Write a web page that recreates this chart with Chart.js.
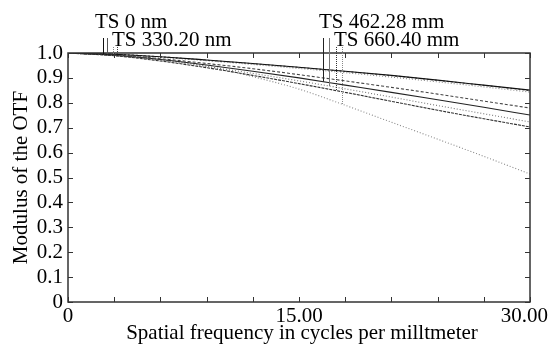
<!DOCTYPE html>
<html>
<head>
<meta charset="utf-8">
<script src="https://cdn.jsdelivr.net/npm/chart.js@4.4.1/dist/chart.umd.min.js"></script>
<style>
  html, body { margin: 0; padding: 0; background: #fff; }
  #wrap { width: 550px; height: 347px; }
</style>
</head>
<body>
<div id="wrap"><canvas id="mtf" width="550" height="347"></canvas></div>
<script>
// spatial frequency samples (cycles/mm)
const freqs = [0, 3, 6, 9, 12, 15, 18, 21, 24, 27, 30];

// MTF curves, tangential / sagittal for each field
const fld0T   = [1.0, 0.995, 0.985, 0.972, 0.958, 0.943, 0.927, 0.910, 0.891, 0.871, 0.851];
const fld0S   = [1.0, 0.995, 0.985, 0.971, 0.957, 0.942, 0.926, 0.909, 0.890, 0.870, 0.849];
const fld330T = [1.0, 0.994, 0.983, 0.969, 0.954, 0.938, 0.921, 0.903, 0.884, 0.864, 0.843];
const fld330S = [1.0, 0.992, 0.977, 0.958, 0.937, 0.913, 0.888, 0.862, 0.835, 0.807, 0.779];
const fld462T = [1.0, 0.991, 0.974, 0.952, 0.927, 0.900, 0.871, 0.842, 0.812, 0.782, 0.751];
const fld462S = [1.0, 0.990, 0.971, 0.946, 0.918, 0.888, 0.856, 0.823, 0.789, 0.756, 0.723];
const fld660T = [1.0, 0.989, 0.968, 0.941, 0.910, 0.877, 0.842, 0.806, 0.770, 0.736, 0.703];
const fld660S = [1.0, 0.995, 0.975, 0.947, 0.905, 0.855, 0.790, 0.722, 0.654, 0.585, 0.514];

const xTicks = [0, 3, 6, 9, 12, 15, 18, 21, 24, 27, 30];
const xLabelVals = [0, 15, 30];
const xLabelText = ['0', '15.00', '30.00'];
const yTicks = [0, 0.1, 0.2, 0.3, 0.4, 0.5, 0.6, 0.7, 0.8, 0.9, 1.0];

const fieldNames = ['TS 0 nm', 'TS 330.20 nm', 'TS 462.28 mm', 'TS 660.40 mm'];
// marker frequency for each curve (where the field label line meets it)
const markerFreqs = [2.27, 2.53, 2.92, 3.18, 16.56, 16.95, 17.40, 17.79];

const serif = '"Liberation Serif", "DejaVu Serif", serif';

function pts(vals) {
    return freqs.map((f, i) => ({ x: f, y: vals[i] }));
}

const styles = [
    { c: '#111', d: [] },
    { c: '#555', d: [2, 2] },
    { c: '#888', d: [1, 2] },
    { c: '#444', d: [3, 2] },
    { c: '#222', d: [] },
    { c: '#777', d: [1, 2] },
    { c: '#333', d: [3, 1] },
    { c: '#888', d: [1, 2] }
];
const series = [fld0T, fld0S, fld330T, fld330S, fld462T, fld462S, fld660T, fld660S];

// value of a curve at frequency f (linear between samples)
function valueAt(vals, f) {
    for (let i = 1; i < freqs.length; i++) {
        if (f <= freqs[i]) {
            const t = (f - freqs[i - 1]) / (freqs[i] - freqs[i - 1]);
            return vals[i - 1] + t * (vals[i] - vals[i - 1]);
        }
    }
    return vals[vals.length - 1];
}

const framePlugin = {
    id: 'frame',
    afterDraw(chart) {
        const ctx = chart.ctx;
        const a = chart.chartArea;
        const xs = chart.scales.x, ys = chart.scales.y;
        ctx.save();

        // frame
        ctx.strokeStyle = '#333';
        ctx.lineWidth = 1.5;
        ctx.strokeRect(a.left, a.top, a.right - a.left, a.bottom - a.top);

        // inward ticks on all four sides
        ctx.lineWidth = 1;
        ctx.beginPath();
        xTicks.forEach(v => {
            const px = Math.round(xs.getPixelForValue(v)) + 0.5;
            ctx.moveTo(px, a.bottom); ctx.lineTo(px, a.bottom - 5);
            ctx.moveTo(px, a.top); ctx.lineTo(px, a.top + 5);
        });
        yTicks.forEach(v => {
            const py = Math.round(ys.getPixelForValue(v)) + 0.5;
            ctx.moveTo(a.left, py); ctx.lineTo(a.left + 5, py);
            ctx.moveTo(a.right, py); ctx.lineTo(a.right - 5, py);
        });
        ctx.stroke();

        // field label lines
        markerFreqs.forEach((f, i) => {
            const px = Math.round(xs.getPixelForValue(f)) + 0.5;
            const py = ys.getPixelForValue(valueAt(series[i], f));
            const group = Math.floor(i / 2);
            const top = (group % 2 === 0) ? 38 : 47;
            ctx.strokeStyle = styles[i].c;
            ctx.setLineDash(group % 2 === 0 ? [] : [1, 1]);
            ctx.beginPath();
            ctx.moveTo(px, top);
            ctx.lineTo(px, py);
            ctx.stroke();
        });
        ctx.setLineDash([]);

        // field labels
        ctx.fillStyle = '#000';
        ctx.font = '21px ' + serif;
        ctx.textBaseline = 'alphabetic';
        ctx.fillText(fieldNames[0], 95, 28);
        ctx.fillText(fieldNames[1], 112, 46);
        ctx.fillText(fieldNames[2], 319, 28);
        ctx.fillText(fieldNames[3], 334, 46);

        // x tick labels, kept inside the canvas
        ctx.textBaseline = 'top';
        xLabelVals.forEach((v, i) => {
            const w = ctx.measureText(xLabelText[i]).width;
            let left = xs.getPixelForValue(v) - w / 2;
            left = Math.min(left, chart.width - 2 - w);
            ctx.fillText(xLabelText[i], left, a.bottom + 4);
        });

        // x axis title
        ctx.textBaseline = 'alphabetic';
        ctx.textAlign = 'center';
        ctx.fillText('Spatial frequency in cycles per milltmeter', 302, 339);
        ctx.restore();
    }
};

new Chart(document.getElementById('mtf'), {
    type: 'line',
    data: {
        datasets: series.map((vals, i) => ({
            data: pts(vals),
            borderColor: styles[i].c,
            borderDash: styles[i].d,
            borderWidth: 1.1,
            pointRadius: 0,
            fill: false,
            cubicInterpolationMode: 'monotone'
        }))
    },
    options: {
        responsive: false,
        animation: false,
        devicePixelRatio: 1,
        layout: { padding: { left: 9, right: 20, top: 53, bottom: 0 } },
        plugins: {
            legend: { display: false },
            tooltip: { enabled: false }
        },
        scales: {
            x: {
                type: 'linear',
                min: 0,
                max: 30,
                grid: { display: false, drawTicks: false },
                border: { display: false },
                afterBuildTicks: s => { s.ticks = xTicks.map(v => ({ value: v })); },
                afterFit: s => { s.height = 45; s.paddingLeft = 0; s.paddingRight = 0; },
                ticks: { display: false }
            },
            y: {
                min: 0,
                max: 1,
                grid: { display: false, drawTicks: false },
                border: { display: false },
                afterBuildTicks: s => { s.ticks = yTicks.map(v => ({ value: v })); },
                afterFit: s => { s.width = 59; s.paddingTop = 0; s.paddingBottom = 0; },
                title: {
                    display: true,
                    text: 'Modulus of the OTF',
                    color: '#000',
                    font: { family: serif, size: 21 },
                    padding: { top: 0, bottom: 2 }
                },
                ticks: {
                    autoSkip: false,
                    padding: 5,
                    color: '#000',
                    font: { family: serif, size: 21 },
                    callback: v => (v === 0 ? '0' : v.toFixed(1))
                }
            }
        }
    },
    plugins: [framePlugin]
});
</script>
</body>
</html>
